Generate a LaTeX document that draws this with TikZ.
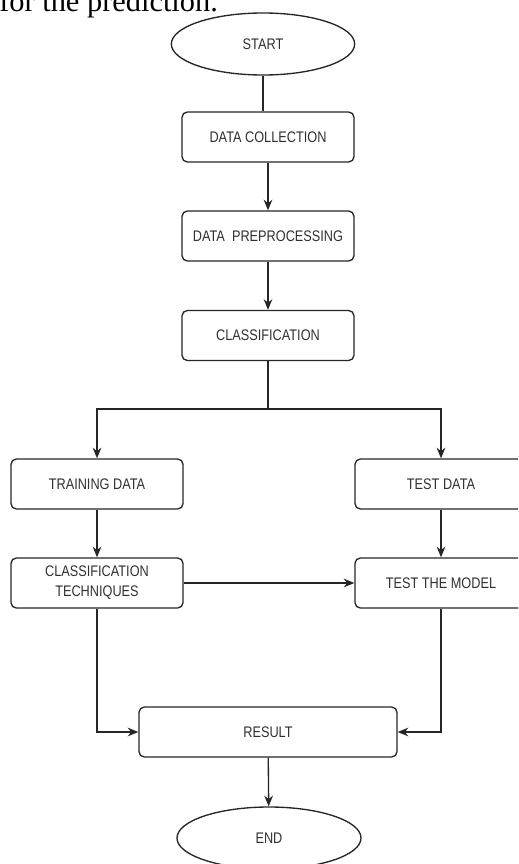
\documentclass[tikz,border=0pt]{standalone}
\usepackage{fontspec}
\setmainfont{Liberation Serif}
\newfontfamily\boxfont[FakeStretch=0.83]{Liberation Sans}
\usetikzlibrary{arrows.meta,shapes.geometric}
\definecolor{ink}{HTML}{262626}
\definecolor{label}{HTML}{303030}
\begin{document}
\begin{tikzpicture}[x=0.75pt,y=-0.75pt,
  flowbox/.style={draw=ink, line width=1pt, rounded corners=4pt,
    minimum width=129pt, minimum height=37.5pt, inner sep=0pt,
    align=center, text=label, font=\boxfont\fontsize{11.5}{15}\selectfont},
  terminal/.style={ellipse, draw=ink, line width=1pt,
    minimum width=137.5pt, minimum height=46.5pt, inner sep=0pt,
    text=label, font=\boxfont\fontsize{11.5}{15}\selectfont},
  link/.style={draw=ink, line width=1pt},
  arrowlink/.style={link, -{Stealth[length=8pt,width=6.5pt]}}]
  \clip (0,0) rectangle (518,864);

  % leading sentence fragment above the chart
  \node[anchor=base west, inner sep=0pt, text=black,
        font=\fontsize{22.8}{27}\selectfont] (lead) at (-1,11) {for the prediction.};

  % main column
  \node[terminal] (start) at (263,44) {START};
  \node[flowbox] (dc) at (268,137) {DATA COLLECTION};
  \node[flowbox] (dp) at (268,236) {DATA\ \ PREPROCESSING};
  \node[flowbox] (cl) at (268,335.5) {CLASSIFICATION};
  \coordinate (split) at (268,409);

  % two branches
  \node[flowbox] (td) at (97,484) {TRAINING DATA};
  \node[flowbox] (ts) at (441,484) {TEST DATA};
  \node[flowbox] (ct) at (97,583) {CLASSIFICATION\\TECHNIQUES};
  \node[flowbox] (tm) at (441,583) {TEST THE MODEL};

  % merge and finish
  \node[flowbox, minimum width=193.5pt] (res) at (268,732) {RESULT};
  \node[terminal, minimum width=138pt] (end) at (269,838) {END};

  % connectors
  \draw[link] (start) -- (start.south |- dc.north);
  \draw[arrowlink] (dc) -- (dp);
  \draw[arrowlink] (dp) -- (cl);
  \draw[link] (cl.south) -- (split);
  \draw[arrowlink] (split) -| (td);
  \draw[arrowlink] (split) -| (ts);
  \draw[arrowlink] (td) -- (ct);
  \draw[arrowlink] (ts) -- (tm);
  \draw[arrowlink] (ct) -- (tm);
  \draw[arrowlink] (ct.south) |- (res.west);
  \draw[arrowlink] (tm.south) |- (res.east);
  \draw[arrowlink] (res) -- (end);
\end{tikzpicture}
\end{document}
